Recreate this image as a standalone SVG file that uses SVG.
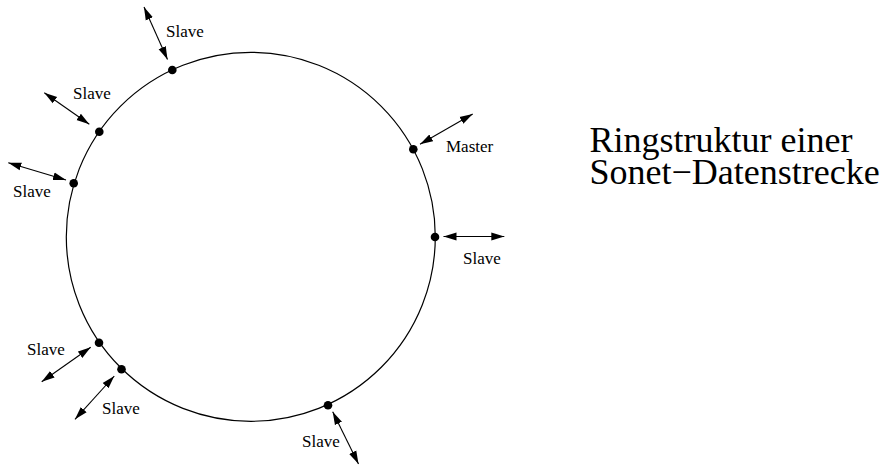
<svg xmlns="http://www.w3.org/2000/svg" width="890" height="466" viewBox="0 0 890 466">
  <defs>
    <marker id="ah" markerUnits="userSpaceOnUse" markerWidth="14" markerHeight="9" refX="13" refY="4.5" orient="auto-start-reverse">
      <path d="M0,0.6 L13,4.5 L0,8.4 z" fill="#000"/>
    </marker>
  </defs>
  <style>
    .ring { fill: none; stroke: #000; stroke-width: 1.2; }
    .dot { fill: #000; }
    .lbl { font-family: "Liberation Serif", "Times New Roman", serif; font-size: 17px; fill: #000; }
    .title { font-family: "Liberation Serif", "Times New Roman", serif; font-size: 36px; fill: #000; }
    .arr { stroke: #000; stroke-width: 1.1; fill: none; marker-start: url(#ah); marker-end: url(#ah); }
  </style>
  <rect width="890" height="466" fill="#fff"/>
  <g id="ring">
    <circle class="ring" cx="250.8" cy="236.8" r="184.5"/>
  </g>
  <g id="connectors">
    <line class="arr" x1="144" y1="7" x2="167.5" y2="59.5"/>
    <line class="arr" x1="44.3" y1="92.7" x2="89.3" y2="124.3"/>
    <line class="arr" x1="8.3" y1="162.7" x2="66" y2="180"/>
    <line class="arr" x1="472.7" y1="114" x2="420" y2="144.3"/>
    <line class="arr" x1="443.5" y1="236.5" x2="504.3" y2="236.5"/>
    <line class="arr" x1="90.7" y1="347.3" x2="41.7" y2="381.7"/>
    <line class="arr" x1="114.3" y1="376" x2="75" y2="419.3"/>
    <line class="arr" x1="332.7" y1="411.7" x2="358.5" y2="464"/>
  </g>
  <g id="slave1"><circle class="dot" cx="172.3" cy="70" r="4.3"/><text class="lbl" x="166" y="37">Slave</text></g>
  <g id="slave2"><circle class="dot" cx="99.3" cy="131.7" r="4.3"/><text class="lbl" x="73" y="99">Slave</text></g>
  <g id="slave3"><circle class="dot" cx="73.7" cy="183.3" r="4.3"/><text class="lbl" x="13" y="197">Slave</text></g>
  <g id="master"><circle class="dot" cx="413.3" cy="149.3" r="4.3"/><text class="lbl" x="446" y="152">Master</text></g>
  <g id="slave4"><circle class="dot" cx="435" cy="237" r="4.3"/><text class="lbl" x="463" y="264">Slave</text></g>
  <g id="slave5"><circle class="dot" cx="99" cy="342.7" r="4.3"/><text class="lbl" x="27" y="355">Slave</text></g>
  <g id="slave6"><circle class="dot" cx="121.5" cy="369.3" r="4.3"/><text class="lbl" x="102" y="414">Slave</text></g>
  <g id="slave7"><circle class="dot" cx="328" cy="405.3" r="4.3"/><text class="lbl" x="302" y="447">Slave</text></g>
  <g id="title">
    <text class="title" x="589.5" y="152">Ringstruktur einer</text>
    <text class="title" x="589.5" y="184">Sonet−Datenstrecke</text>
  </g>
</svg>
